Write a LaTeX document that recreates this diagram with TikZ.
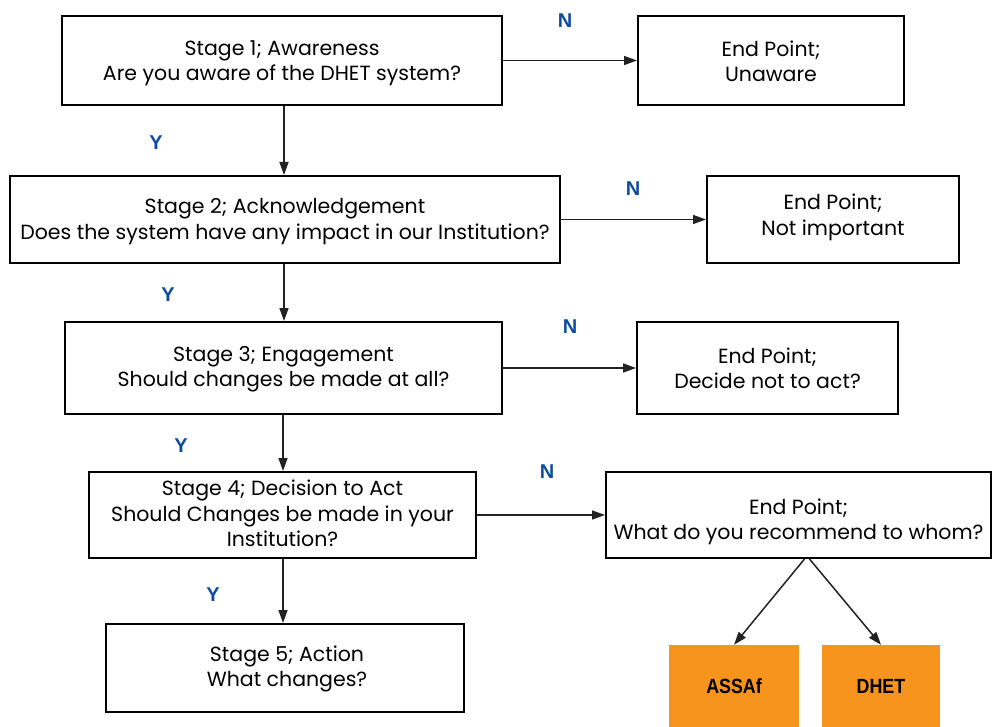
\documentclass[tikz,border=0pt]{standalone}
\usepackage{fontspec}
\setmainfont{Poppins}
\newfontfamily\lblfont{Liberation Sans}
\newfontfamily\obfont[FakeStretch=0.87]{Liberation Sans}
\usetikzlibrary{arrows.meta}
\definecolor{lblblue}{HTML}{0D4B9E}
\definecolor{boxorange}{HTML}{F7941D}
\definecolor{linegray}{HTML}{222222}
\begin{document}
\begin{tikzpicture}[x=1pt,y=-1pt,
  box/.style={draw=black,line width=2pt,inner sep=0pt},
  txt/.style={inner sep=0pt,align=center,font=\fontsize{20.5}{25.3}\selectfont},
  obox/.style={fill=boxorange,inner sep=0pt,
    font=\obfont\bfseries\fontsize{20.5}{22}\selectfont},
  arr/.style={draw=linegray,line width=1.5pt,-{Triangle[length=13pt,width=9pt]}},
  yn/.style={text=lblblue,font=\lblfont\bfseries\fontsize{20}{22}\selectfont}]
\useasboundingbox (0,0) rectangle (992,727);
\node[box,minimum width=440pt,minimum height=89pt] (s1) at (282,60.5) {};
\node[box,minimum width=550pt,minimum height=87pt] (s2) at (285,219.5) {};
\node[box,minimum width=437pt,minimum height=92pt] (s3) at (283.5,368) {};
\node[box,minimum width=387pt,minimum height=86pt] (s4) at (282.5,515) {};
\node[box,minimum width=358pt,minimum height=88pt] (s5) at (285,668) {};
\node[box,minimum width=266pt,minimum height=89pt] (e1) at (771,60.5) {};
\node[box,minimum width=252pt,minimum height=87pt] (e2) at (833,219.5) {};
\node[box,minimum width=261pt,minimum height=92pt] (e3) at (767.5,368) {};
\node[box,minimum width=385pt,minimum height=86pt] (e4) at (798.5,515) {};
\node[txt] (s1t) at ([yshift=-3pt]s1.center) {Stage 1; Awareness\\Are you aware of the DHET system?};
\node[txt] (s2t) at ([yshift=-2pt]s2.center) {Stage 2; Acknowledgement\\Does the system have any impact in our Institution?};
\node[txt] (s3t) at ([yshift=-1pt]s3.center) {Stage 3; Engagement\\Should changes be made at all?};
\node[txt] (s4t) at ([yshift=1.5pt]s4.center) {Stage 4; Decision to Act\\Should Changes be made in your\\Institution?};
\node[txt] (s5t) at ([yshift=-1pt,xshift=2pt]s5.center) {Stage 5; Action\\What changes?};
\node[txt] (e1t) at ([yshift=-1pt]e1.center) {End Point;\\Unaware};
\node[txt] (e2t) at ([yshift=2pt]e2.center) {End Point;\\Not important};
\node[txt] (e3t) at (e3.center) {End Point;\\Decide not to act?};
\node[txt] (e4t) at ([yshift=-6.5pt]e4.center) {End Point;\\What do you recommend to whom?};
\node[obox,minimum width=130pt,minimum height=82pt] (as) at (734,686) {ASSAf};
\node[obox,minimum width=118pt,minimum height=82pt] (dh) at (881,686) {DHET};
\draw[arr] (s1.south -| 284,0) -- (s2.north -| 284,0);
\draw[arr] (s2.south -| 284,0) -- (s3.north -| 284,0);
\draw[arr] (s3.south -| 283,0) -- (s4.north -| 283,0);
\draw[arr] (s4.south -| 283,0) -- (s5.north -| 283,0);
\draw[arr] (s1.east) -- (e1.west);
\draw[arr] (s2.east) -- (e2.west);
\draw[arr] (s3.east) -- (e3.west);
\draw[arr] (s4.east) -- (e4.west);
\draw[arr] ([xshift=6pt]e4.south) -- (as.north);
\draw[arr] ([xshift=11pt]e4.south) -- (dh.north);
\node[yn] (n1) at (565,21) {N};
\node[yn] (n2) at (633,189) {N};
\node[yn] (n3) at (570,327) {N};
\node[yn] (n4) at (547,472) {N};
\node[yn] (y1) at (156,143) {Y};
\node[yn] (y2) at (168,295) {Y};
\node[yn] (y3) at (181,446) {Y};
\node[yn] (y4) at (213,595) {Y};
\end{tikzpicture}
\end{document}
